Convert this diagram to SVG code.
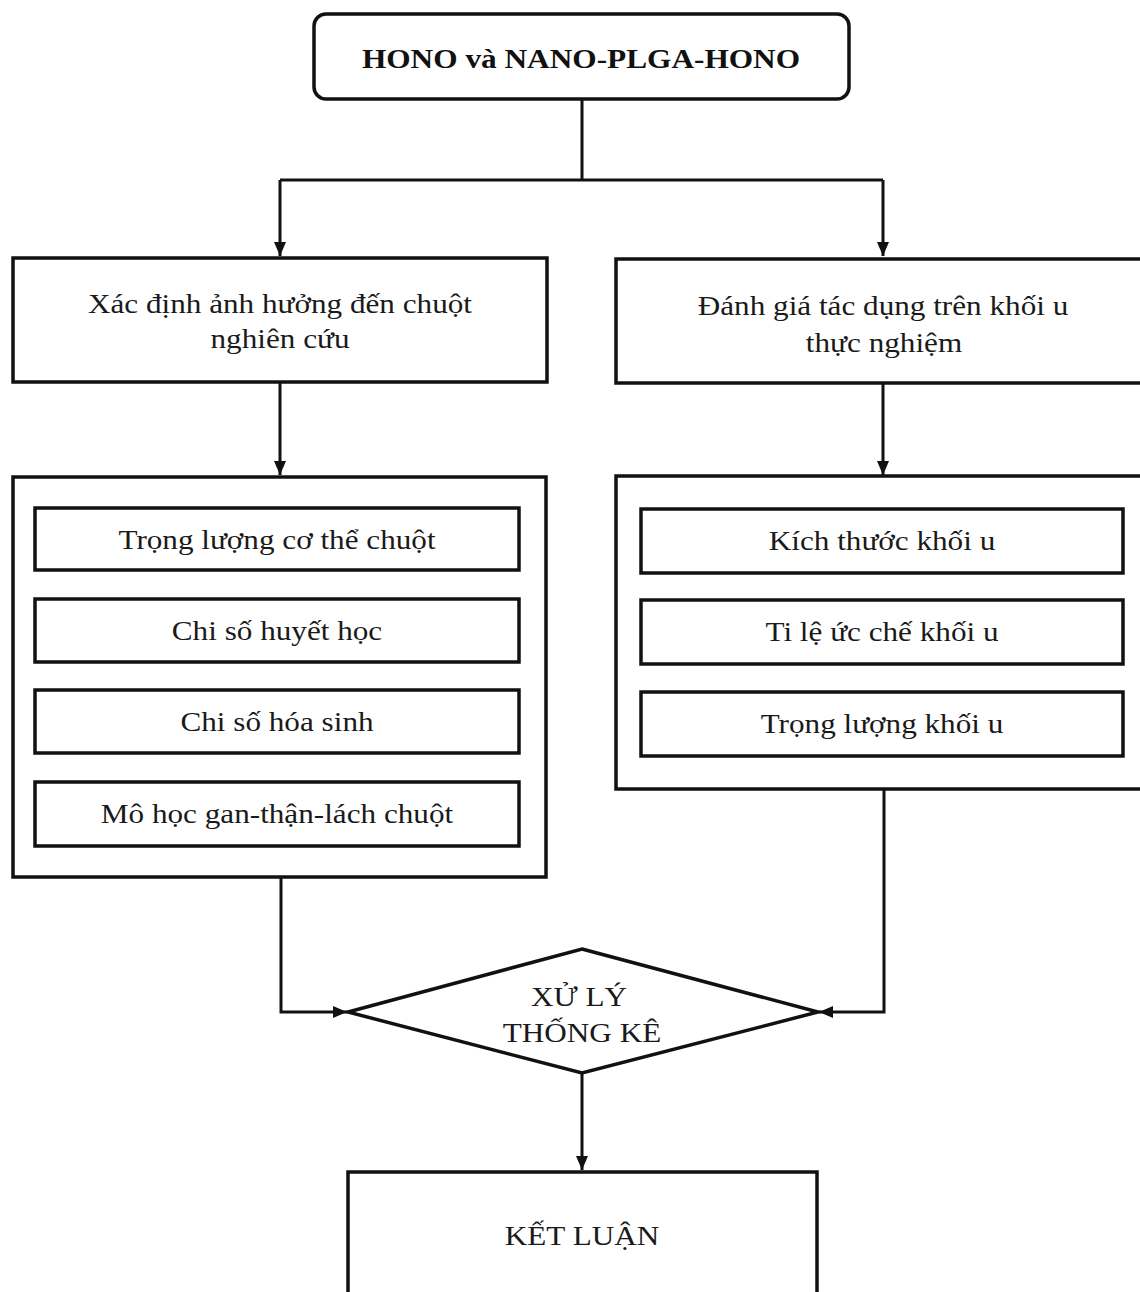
<svg xmlns="http://www.w3.org/2000/svg" width="1140" height="1292" viewBox="0 0 1140 1292">
  <style>
    .box { fill: #ffffff; stroke: #111111; stroke-width: 3.5; }
    .conn { fill: none; stroke: #111111; stroke-width: 3; }
    .t { font-family: "Liberation Serif", "Times New Roman", serif; font-size: 27px; fill: #1a1a1a; text-anchor: middle; }
    .tb { font-family: "Liberation Serif", "Times New Roman", serif; font-size: 27px; font-weight: bold; fill: #111111; text-anchor: middle; }
  </style>
  <defs>
    <marker id="arrow" viewBox="0 0 14 12" refX="14" refY="6" markerWidth="14" markerHeight="12" markerUnits="userSpaceOnUse" orient="auto">
      <path d="M0,0 L14,6 L0,12 z" fill="#111111"/>
    </marker>
  </defs>
  <rect x="0" y="0" width="1140" height="1292" fill="#ffffff"/>

  <g id="connectors">
    <path class="conn" d="M582,99 V180 M280,180 H883"/>
    <path class="conn" d="M280,180 V256" marker-end="url(#arrow)"/>
    <path class="conn" d="M883,180 V256" marker-end="url(#arrow)"/>
    <path class="conn" d="M280,382 V475" marker-end="url(#arrow)"/>
    <path class="conn" d="M883,383 V475" marker-end="url(#arrow)"/>
    <path class="conn" d="M281,877 V1012 H347" marker-end="url(#arrow)"/>
    <path class="conn" d="M884,789 V1012 H819" marker-end="url(#arrow)"/>
    <path class="conn" d="M582,1073 V1170" marker-end="url(#arrow)"/>
  </g>

  <g id="node-start">
    <rect class="box" x="314" y="14" width="535" height="85" rx="12" ry="12"/>
    <text class="tb" transform="translate(581,68) scale(1.16,1)">HONO và NANO-PLGA-HONO</text>
  </g>

  <g id="node-left-title">
    <rect class="box" x="13" y="258" width="534" height="124"/>
    <text class="t" transform="translate(280,313) scale(1.155,1)">Xác định ảnh hưởng đến chuột</text>
    <text class="t" transform="translate(280,348) scale(1.155,1)">nghiên cứu</text>
  </g>

  <g id="node-right-title">
    <rect class="box" x="616" y="259" width="540" height="124"/>
    <text class="t" transform="translate(883,315) scale(1.155,1)">Đánh giá tác dụng trên khối u</text>
    <text class="t" transform="translate(884,352) scale(1.155,1)">thực nghiệm</text>
  </g>

  <g id="node-left-group">
    <rect class="box" x="13" y="477" width="533" height="400"/>
    <g id="node-left-1">
      <rect class="box" x="35" y="508" width="484" height="62"/>
      <text class="t" transform="translate(277,549) scale(1.155,1)">Trọng lượng cơ thể chuột</text>
    </g>
    <g id="node-left-2">
      <rect class="box" x="35" y="599" width="484" height="63"/>
      <text class="t" transform="translate(277,640) scale(1.155,1)">Chi số huyết học</text>
    </g>
    <g id="node-left-3">
      <rect class="box" x="35" y="690" width="484" height="63"/>
      <text class="t" transform="translate(277,731) scale(1.155,1)">Chi số hóa sinh</text>
    </g>
    <g id="node-left-4">
      <rect class="box" x="35" y="782" width="484" height="64"/>
      <text class="t" transform="translate(277,823) scale(1.155,1)">Mô học gan-thận-lách chuột</text>
    </g>
  </g>

  <g id="node-right-group">
    <rect class="box" x="616" y="476" width="540" height="313"/>
    <g id="node-right-1">
      <rect class="box" x="641" y="509" width="482" height="64"/>
      <text class="t" transform="translate(882,550) scale(1.155,1)">Kích thước khối u</text>
    </g>
    <g id="node-right-2">
      <rect class="box" x="641" y="600" width="482" height="64"/>
      <text class="t" transform="translate(882,641) scale(1.155,1)">Ti lệ ức chế khối u</text>
    </g>
    <g id="node-right-3">
      <rect class="box" x="641" y="692" width="482" height="64"/>
      <text class="t" transform="translate(882,733) scale(1.155,1)">Trọng lượng khối u</text>
    </g>
  </g>

  <g id="node-decision">
    <polygon class="box" points="582,949 818,1012 582,1073 348,1012"/>
    <text class="t" transform="translate(579,1006) scale(1.155,1)">XỬ LÝ</text>
    <text class="t" transform="translate(582,1042) scale(1.155,1)">THỐNG KÊ</text>
  </g>

  <g id="node-conclusion">
    <rect class="box" x="348" y="1172" width="469" height="140"/>
    <text class="t" transform="translate(582,1245) scale(1.155,1)">KẾT LUẬN</text>
  </g>
</svg>
